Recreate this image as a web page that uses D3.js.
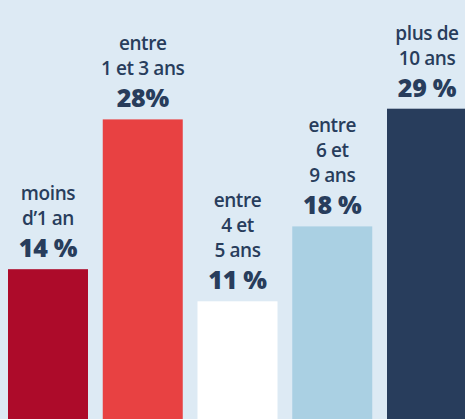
<!DOCTYPE html>
<html><head><meta charset="utf-8">
<script src="https://cdn.jsdelivr.net/npm/d3@7"></script>
<style>
html,body{margin:0;padding:0;background:#ddeaf4;overflow:hidden}
svg{display:block}
</style></head>
<body>
<svg id="chart" width="465" height="419"></svg>
<script>
const categories = ["moins d'1 an","entre 1 et 3 ans","entre 4 et 5 ans","entre 6 et 9 ans","plus de 10 ans"];
const labelLines = [["moins","d’1 an"],["entre","1 et 3 ans"],["entre","4 et","5 ans"],["entre","6 et","9 ans"],["plus de","10 ans"]];
const values = [14,28,11,18,29];
const valueLabels = ["14 %","28%","11 %","18 %","29 %"];
const colors = ["#ad0b2a","#e84142","#ffffff","#aad0e3","#283d5c"];

const W=465,H=419;
const svg=d3.select("#chart");
svg.append("rect").attr("width",W).attr("height",H).attr("fill","#ddeaf4");

const x=d3.scaleBand().domain(categories).range([8,467]).paddingInner(0.1557).paddingOuter(0);
const y=d3.scaleLinear().domain([0,30]).range([H,H-321]);

const g=svg.selectAll("g.bar").data(categories).enter().append("g");
g.append("rect")
  .attr("x",d=>x(d)).attr("width",x.bandwidth())
  .attr("y",(d,i)=>y(values[i])).attr("height",(d,i)=>H-y(values[i]))
  .attr("fill",(d,i)=>colors[i]);

const textColor="#283d5c";
const font="'Open Sans', sans-serif";
g.append("text")
  .attr("x",d=>x(d)+x.bandwidth()/2)
  .attr("y",(d,i)=>y(values[i])-12)
  .attr("text-anchor","middle")
  .attr("fill",textColor).attr("font-family",font).attr("font-weight",800)
  .attr("font-size",25).attr("letter-spacing","-0.3px")
  .text((d,i)=>valueLabels[i]);

g.each(function(d,i){
  const lines=labelLines[i];
  const base=y(values[i])-12-32;
  const t=d3.select(this).append("text")
    .attr("text-anchor","middle")
    .attr("fill",textColor).attr("font-family",font).attr("font-weight",600)
    .attr("font-size",19).attr("letter-spacing","-0.4px");
  lines.forEach((l,j)=>{
    t.append("tspan").attr("x",x(d)+x.bandwidth()/2)
     .attr("y",base-(lines.length-1-j)*25).text(l);
  });
});
</script>
</body></html>
